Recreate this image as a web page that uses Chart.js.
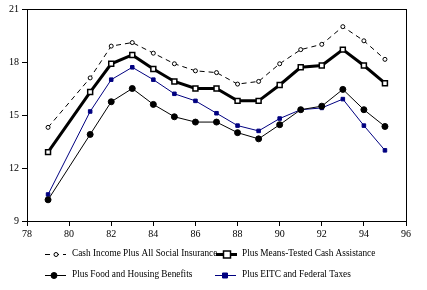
<!DOCTYPE html>
<html>
<head>
<meta charset="utf-8">
<script src="https://cdn.jsdelivr.net/npm/chart.js@4/dist/chart.umd.min.js"></script>
<style>
  html, body { margin: 0; padding: 0; background: #fff; }
  #wrap { width: 427px; height: 290px; }
</style>
</head>
<body>
<div id="wrap"><canvas id="grafico" width="427" height="290"></canvas></div>
<script>
// years (1980 missing in the source)
const anios = [79, 81, 82, 83, 84, 85, 86, 87, 88, 89, 90, 91, 92, 93, 94, 95];

const seguroSocial = [14.3, 17.1, 18.9, 19.1, 18.5, 17.9, 17.5, 17.4, 16.75, 16.9, 17.9, 18.7, 19.0, 20.0, 19.2, 18.15];
const asistencia   = [12.9, 16.3, 17.9, 18.4, 17.6, 16.9, 16.5, 16.5, 15.8, 15.8, 16.7, 17.7, 17.8, 18.7, 17.8, 16.8];
const alimentos    = [10.2, 13.9, 15.75, 16.5, 15.6, 14.9, 14.6, 14.6, 14.0, 13.65, 14.45, 15.3, 15.5, 16.45, 15.3, 14.35];
const eitc         = [10.5, 15.2, 17.0, 17.7, 17.0, 16.2, 15.8, 15.1, 14.4, 14.1, 14.8, 15.3, 15.4, 15.9, 14.4, 13.0];

const xTicks = [78, 80, 82, 84, 86, 88, 90, 92, 94, 96];
const yTicks = [9, 12, 15, 18, 21];

const etiquetas = [
  "Cash Income Plus All Social Insurance",
  "Plus Means-Tested Cash Assistance",
  "Plus Food and Housing Benefits",
  "Plus EITC and Federal Taxes"
];

const FUENTE = "'Liberation Serif', 'Times New Roman', serif";

function pares(vals) {
  return anios.map((a, i) => ({ x: a, y: vals[i] }));
}

const series = [
  { label: etiquetas[0], data: pares(seguroSocial), borderColor: "#000", borderWidth: 1, borderDash: [5, 4],
    pointStyle: "circle", pointRadius: 2, pointBackgroundColor: "#fff", pointBorderColor: "#000", pointBorderWidth: 1 },
  { label: etiquetas[1], data: pares(asistencia), borderColor: "#000", borderWidth: 3,
    pointStyle: "rect", pointRadius: 3.5, pointBackgroundColor: "#fff", pointBorderColor: "#000", pointBorderWidth: 1.5 },
  { label: etiquetas[2], data: pares(alimentos), borderColor: "#000", borderWidth: 1,
    pointStyle: "circle", pointRadius: 3, pointBackgroundColor: "#000", pointBorderColor: "#000", pointBorderWidth: 1 },
  { label: etiquetas[3], data: pares(eitc), borderColor: "#000080", borderWidth: 1,
    pointStyle: "rect", pointRadius: 2.5, pointBackgroundColor: "#000080", pointBorderColor: "#000080", pointBorderWidth: 1 }
];

// frame around plot + legend in 2 columns
const marcoYLeyenda = {
  id: "marcoYLeyenda",
  afterDraw(chart) {
    const ctx = chart.ctx;
    const a = chart.chartArea;
    ctx.save();
    ctx.strokeStyle = "#000";
    ctx.lineWidth = 1;
    ctx.strokeRect(Math.round(a.left) + 0.5, Math.round(a.top) + 0.5, Math.round(a.right - a.left), Math.round(a.bottom - a.top));

    const items = [
      { x: 45, y: 254, marca: 56 },
      { x: 216, y: 254, marca: 227 },
      { x: 45, y: 275, marca: 54 },
      { x: 215, y: 275, marca: 225 }
    ];
    ctx.font = "9.3px " + FUENTE;
    ctx.textBaseline = "middle";
    items.forEach((it, i) => {
      const ds = series[i];
      const x1 = it.x, x2 = it.x + 21;
      // text first so the next sample draws over it
      ctx.fillStyle = "#000";
      ctx.fillText(ds.label, i % 2 ? 242 : 72, it.y);
      ctx.beginPath();
      ctx.strokeStyle = ds.borderColor;
      ctx.lineWidth = ds.borderWidth;
      ctx.setLineDash(ds.borderDash || []);
      ctx.moveTo(x1, it.y + 0.5);
      ctx.lineTo(x2, it.y + 0.5);
      ctx.stroke();
      ctx.setLineDash([]);
      const r = ds.pointRadius;
      ctx.fillStyle = ds.pointBackgroundColor;
      ctx.strokeStyle = ds.pointBorderColor;
      ctx.lineWidth = ds.pointBorderWidth;
      ctx.beginPath();
      if (ds.pointStyle === "rect") ctx.rect(it.marca - r, it.y + 0.5 - r, 2 * r, 2 * r);
      else ctx.arc(it.marca, it.y + 0.5, r, 0, Math.PI * 2);
      ctx.fill();
      ctx.stroke();
    });
    ctx.restore();
  }
};

new Chart(document.getElementById("grafico"), {
  type: "line",
  data: { datasets: series },
  options: {
    responsive: false,
    animation: false,
    devicePixelRatio: 1,
    layout: { padding: { top: 7, right: 21, bottom: 49, left: 0 } },
    plugins: { legend: { display: false }, tooltip: { enabled: false } },
    elements: { line: { tension: 0, fill: false } },
    scales: {
      x: {
        type: "linear",
        min: 78, max: 96,
        afterBuildTicks: s => { s.ticks = xTicks.map(v => ({ value: v })); },
        afterFit: s => { s.height = 20; },
        ticks: { color: "#000", font: { family: FUENTE, size: 10 }, padding: 2, maxRotation: 0 },
        grid: { drawOnChartArea: false, drawTicks: true, tickLength: 5, color: "#000" },
        border: { display: true, color: "#000", width: 1 }
      },
      y: {
        min: 9, max: 21,
        afterBuildTicks: s => { s.ticks = yTicks.map(v => ({ value: v })); },
        afterFit: s => { s.width = 27; },
        ticks: { color: "#000", font: { family: FUENTE, size: 10 }, padding: 3 },
        grid: { drawOnChartArea: false, drawTicks: true, tickLength: 5, color: "#000" },
        border: { display: true, color: "#000", width: 1 }
      }
    }
  },
  plugins: [marcoYLeyenda]
});
</script>
</body>
</html>
